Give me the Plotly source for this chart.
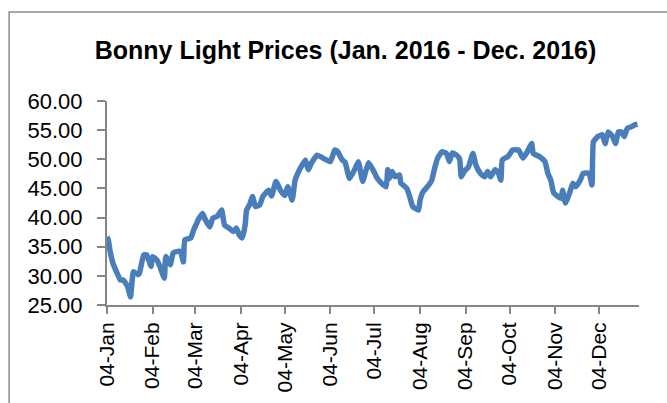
import plotly.graph_objects as go

# Bonny Light daily prices (USD/bbl)
dates = [
    "2016-01-04", "2016-01-05", "2016-01-06", "2016-01-08", "2016-01-11", "2016-01-13",
    "2016-01-15", "2016-01-18", "2016-01-20", "2016-01-22", "2016-01-25", "2016-01-26",
    "2016-01-29", "2016-01-31", "2016-02-03", "2016-02-04", "2016-02-07", "2016-02-09",
    "2016-02-12", "2016-02-13", "2016-02-16", "2016-02-18", "2016-02-21", "2016-02-23",
    "2016-02-25", "2016-02-26", "2016-03-01", "2016-03-03", "2016-03-05", "2016-03-06",
    "2016-03-09", "2016-03-11", "2016-03-14", "2016-03-16", "2016-03-19", "2016-03-22",
    "2016-03-24", "2016-03-27", "2016-03-30", "2016-04-01", "2016-04-03", "2016-04-05",
    "2016-04-07", "2016-04-08", "2016-04-10", "2016-04-12", "2016-04-14", "2016-04-17",
    "2016-04-19", "2016-04-23", "2016-04-25", "2016-04-28", "2016-05-01", "2016-05-04",
    "2016-05-06", "2016-05-09", "2016-05-11", "2016-05-14", "2016-05-18", "2016-05-20",
    "2016-05-22", "2016-05-26", "2016-05-30", "2016-06-04", "2016-06-07", "2016-06-09",
    "2016-06-12", "2016-06-14", "2016-06-17", "2016-06-21", "2016-06-23", "2016-06-26",
    "2016-06-28", "2016-06-30", "2016-07-03", "2016-07-06", "2016-07-10", "2016-07-12",
    "2016-07-13", "2016-07-14", "2016-07-16", "2016-07-18", "2016-07-21", "2016-07-22",
    "2016-07-26", "2016-07-28", "2016-07-30", "2016-08-03", "2016-08-04", "2016-08-06",
    "2016-08-10", "2016-08-12", "2016-08-14", "2016-08-16", "2016-08-19", "2016-08-22",
    "2016-08-24", "2016-08-26", "2016-08-29", "2016-08-31", "2016-09-01", "2016-09-03",
    "2016-09-06", "2016-09-09", "2016-09-11", "2016-09-14", "2016-09-17", "2016-09-19",
    "2016-09-21", "2016-09-24", "2016-09-26", "2016-09-28", "2016-09-29", "2016-10-03",
    "2016-10-06", "2016-10-10", "2016-10-13", "2016-10-16", "2016-10-19", "2016-10-20",
    "2016-10-24", "2016-10-28", "2016-10-30", "2016-11-01", "2016-11-03", "2016-11-08",
    "2016-11-09", "2016-11-11", "2016-11-14", "2016-11-16", "2016-11-18", "2016-11-21",
    "2016-11-23", "2016-11-27", "2016-11-29", "2016-11-30", "2016-12-03", "2016-12-06",
    "2016-12-08", "2016-12-10", "2016-12-13", "2016-12-15", "2016-12-17", "2016-12-19",
    "2016-12-21", "2016-12-23", "2016-12-26", "2016-12-28", "2016-12-30",
]
prices = [
    36.7, 36.0, 34.4, 32.2, 30.4, 29.3,
    29.3, 28.2, 26.4, 30.7, 30.2, 30.4,
    33.6, 33.6, 31.6, 33.3, 32.7, 31.6,
    29.6, 33.3, 31.9, 33.9, 34.2, 34.2,
    32.4, 36.2, 36.5, 37.9, 39.0, 39.6,
    40.7, 39.6, 38.4, 39.9, 40.2, 41.3,
    38.7, 38.2, 37.6, 38.2, 37.0, 36.5,
    38.7, 41.3, 42.2, 43.6, 41.9, 42.2,
    43.6, 44.7, 43.7, 46.2, 44.7, 43.8,
    45.3, 43.0, 46.4, 48.2, 49.9, 48.2,
    49.3, 50.7, 50.2, 49.6, 51.6, 51.3,
    49.9, 49.5, 46.7, 48.5, 49.6, 46.2,
    47.9, 49.4, 48.2, 46.7, 45.6, 45.3,
    48.2, 46.7, 47.9, 47.0, 47.3, 45.9,
    45.0, 43.6, 41.9, 41.3, 43.0, 44.4,
    45.6, 46.4, 48.5, 50.2, 51.3, 51.0,
    49.6, 51.1, 50.7, 50.0, 47.0, 47.9,
    48.7, 51.0, 49.0, 47.6, 47.0, 47.9,
    47.0, 48.2, 47.9, 46.4, 49.9, 50.5,
    51.6, 51.6, 50.2, 51.3, 52.7, 51.0,
    50.5, 49.6, 47.6, 46.4, 44.2, 43.3,
    44.7, 42.5, 44.4, 45.9, 45.3, 46.4,
    47.6, 47.6, 45.6, 53.0, 53.9, 54.2,
    52.7, 54.7, 53.9, 52.7, 54.7, 54.7,
    53.9, 55.3, 55.6, 55.9, 56.0,
]
tick_dates = [
    "2016-01-04", "2016-02-04", "2016-03-04", "2016-04-04", "2016-05-04", "2016-06-04",
    "2016-07-04", "2016-08-04", "2016-09-04", "2016-10-04", "2016-11-04", "2016-12-04",
]
y_ticks = [25, 30, 35, 40, 45, 50, 55, 60]

axis_grey = "#868686"
font_main = "Liberation Sans, Arial, sans-serif"

fig = go.Figure()
fig.add_trace(
    go.Scatter(
        x=dates,
        y=prices,
        mode="lines",
        line=dict(color="#4a7ebb", width=5.5, shape="spline", smoothing=0.4),
        showlegend=False,
        hoverinfo="skip",
    )
)

fig.update_layout(
    width=667,
    height=403,
    margin=dict(l=107, r=28, t=101, b=98),
    paper_bgcolor="white",
    plot_bgcolor="white",
    title=dict(
        text="<b>Bonny Light Prices (Jan. 2016 - Dec. 2016)</b>",
        x=0.518,
        xanchor="center",
        y=0.876,
        yanchor="middle",
        yref="container",
        font=dict(family=font_main, size=25, color="black"),
    ),
    xaxis=dict(
        type="date",
        range=["2016-01-04", "2016-12-31"],
        tickvals=tick_dates,
        tickformat="%d-%b",
        tickangle=-90,
        ticks="outside",
        ticklen=7,
        tickcolor=axis_grey,
        tickwidth=1.5,
        showline=True,
        linecolor=axis_grey,
        linewidth=2,
        showgrid=False,
        zeroline=False,
        automargin=False,
        tickfont=dict(family=font_main, size=21, color="black"),
    ),
    yaxis=dict(
        range=[25, 60],
        tickvals=y_ticks,
        tickformat=".2f",
        ticks="outside",
        ticklen=8,
        tickcolor=axis_grey,
        tickwidth=1.5,
        showline=True,
        linecolor=axis_grey,
        linewidth=2,
        showgrid=False,
        zeroline=False,
        automargin=False,
        ticklabelstandoff=10,
        tickfont=dict(family=font_main, size=22, color="black"),
    ),
    shapes=[
        # chart-area frame, only its left and top edges are inside the picture
        dict(
            type="rect",
            xref="paper",
            yref="paper",
            x0=-0.184,
            x1=1.2,
            y0=-0.6,
            y1=1.436,
            line=dict(color="#8c8c8c", width=1.5),
            fillcolor="rgba(0,0,0,0)",
            layer="below",
        )
    ],
)

# drop the browser's default 8px body margin so the figure sits at the page corner
fig.write_html(
    "out.html",
    config={"displayModeBar": False},
    post_script="document.body.style.margin = '0';",
)
